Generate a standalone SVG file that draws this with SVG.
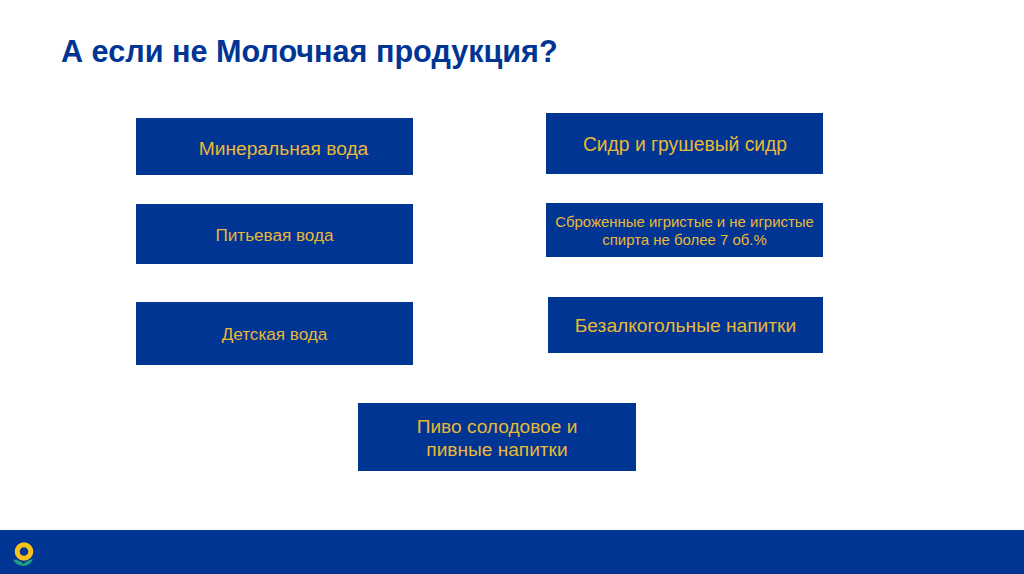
<svg xmlns="http://www.w3.org/2000/svg" width="1024" height="574" viewBox="0 0 1024 574">
<style>
text{font-family:"Liberation Sans",Arial,sans-serif}
.b{fill:#003594}
.t{fill:#e9b834;text-anchor:middle}
.title{fill:#003594;font-weight:bold;font-size:30.600px}
</style>
<rect width="1024" height="574" fill="#fff"/>
<text class="title" x="61" y="62">А если не Молочная продукция?</text>
<g id="n1"><rect class="b" x="136" y="118" width="277" height="57"/><text class="t" x="283.500" y="155" font-size="19.200">Минеральная вода</text></g>
<g id="n2"><rect class="b" x="136" y="204" width="277" height="60"/><text class="t" x="274.500" y="240.500" font-size="17.100">Питьевая вода</text></g>
<g id="n3"><rect class="b" x="136" y="302" width="277" height="63"/><text class="t" x="274.500" y="340" font-size="17.100">Детская вода</text></g>
<g id="n4"><rect class="b" x="546" y="113" width="277" height="61"/><text class="t" x="685" y="150.500" font-size="19.300">Сидр и грушевый сидр</text></g>
<g id="n5"><rect class="b" x="546" y="203" width="277" height="54"/><text class="t" x="684.500" y="227" font-size="14.950">Сброженные игристые и не игристые</text><text class="t" x="684.500" y="245" font-size="14.950">спирта не более 7 об.%</text></g>
<g id="n6"><rect class="b" x="548" y="297" width="275" height="56"/><text class="t" x="685.500" y="332" font-size="19.200">Безалкогольные напитки</text></g>
<g id="n7"><rect class="b" x="358" y="403" width="278" height="68"/><text class="t" x="497" y="433" font-size="19.100">Пиво солодовое и</text><text class="t" x="497" y="456" font-size="19.100">пивные напитки</text></g>
<g id="footer"><rect class="b" y="530" width="1024" height="44"/>
<path d="M13 559.500Q20 559.500 23.500 564Q27 559.500 33 559.500Q30 566 23.500 566Q16 566 13 559.500Z" fill="#1f9c83"/>
<circle cx="24" cy="551.500" r="6.800" fill="none" stroke="#f5c21b" stroke-width="5"/></g>
<g id="connectors"/>
</svg>
